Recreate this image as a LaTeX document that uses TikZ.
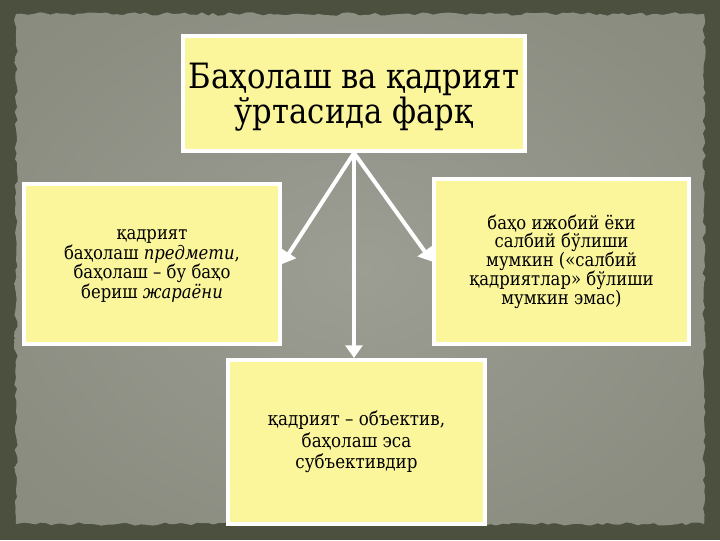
\documentclass[tikz,border=0pt]{standalone}
\usepackage{fontspec}
\setmainfont{DejaVu Serif}[FakeStretch=0.88]
\usepackage{xcolor}
\usepackage{tikz}
\usetikzlibrary{arrows.meta,decorations.pathmorphing}

\definecolor{page_dark}{HTML}{4C503F}
\definecolor{paper_edge}{HTML}{7C7F71}
\definecolor{paper_mid}{HTML}{8B8D81}
\definecolor{paper_light}{HTML}{9C9D93}
\definecolor{note_yellow}{HTML}{FBF69C}

\pgfdeclareradialshading{paper_glow}{\pgfpoint{0bp}{0bp}}{%
	color(0bp)=(paper_light); color(30bp)=(paper_mid); color(71bp)=(paper_edge)}

\tikzset{
	% The big box with the question
	main_box/.style={
		draw=white,line width=0.1cm,fill=note_yellow,rectangle,
		align=center,inner sep=0pt,text depth=-3pt,
		font=\fontsize{24.8pt}{24.8pt}\selectfont
	},
	% The boxes with one point of the answer
	point_box/.style={
		draw=white,line width=0.1cm,fill=note_yellow,rectangle,
		align=center,inner sep=0pt,
		font=\fontsize{13.3pt}{13.3pt}\selectfont
	},
	% The white arrows
	link_arrow/.style={
		draw=white,line width=0.1cm,-{Triangle[length=9pt,width=12pt]}
	},
}

\begin{document}
\begin{tikzpicture}[x=0.025cm,y=-0.025cm]
		\useasboundingbox (0,0) rectangle (720,540);
		% The torn paper
		\fill [page_dark] (0,0) rectangle (720,540);
		\pgfmathsetseed{7}
		\shade [shading=paper_glow,decorate,decoration={random steps,segment length=4pt,amplitude=1.2pt}]
			(16,14) -- (704,14) -- (704,524) -- (16,524) -- cycle;

		\node [main_box,minimum width=8.55cm,minimum height=2.875cm] (Difference) at (354,93.5)
			{Баҳолаш ва қадрият\\ўртасида фарқ};

		\node [point_box,minimum width=6.4cm,minimum height=4cm,text depth=0pt,
			font=\fontsize{13.3pt}{13.8pt}\selectfont] (Subject) at (152,264)
			{қадрият\\баҳолаш \textit{предмети},\\баҳолаш -- бу баҳо\\бериш \textit{жараёни}};
		\node [point_box,minimum width=6.375cm,minimum height=4.125cm] (Sign) at (561.5,261.5)
			{баҳо ижобий ёки\\салбий бўлиши\\мумкин («салбий\\қадриятлар» бўлиши\\мумкин эмас)};
		\node [point_box,minimum width=6.425cm,minimum height=4.1cm,
			font=\fontsize{13.5pt}{15.3pt}\selectfont] (Objective) at (356.5,442)
			{қадрият -- объектив,\\баҳолаш эса\\субъективдир};

		\draw [link_arrow] (Difference.south) -- (Subject.east);
		\draw [link_arrow] (Difference.south) -- (Sign.west);
		\draw [link_arrow] (Difference.south) -- (Difference.south |- Objective.north);
	\end{tikzpicture}
\end{document}
